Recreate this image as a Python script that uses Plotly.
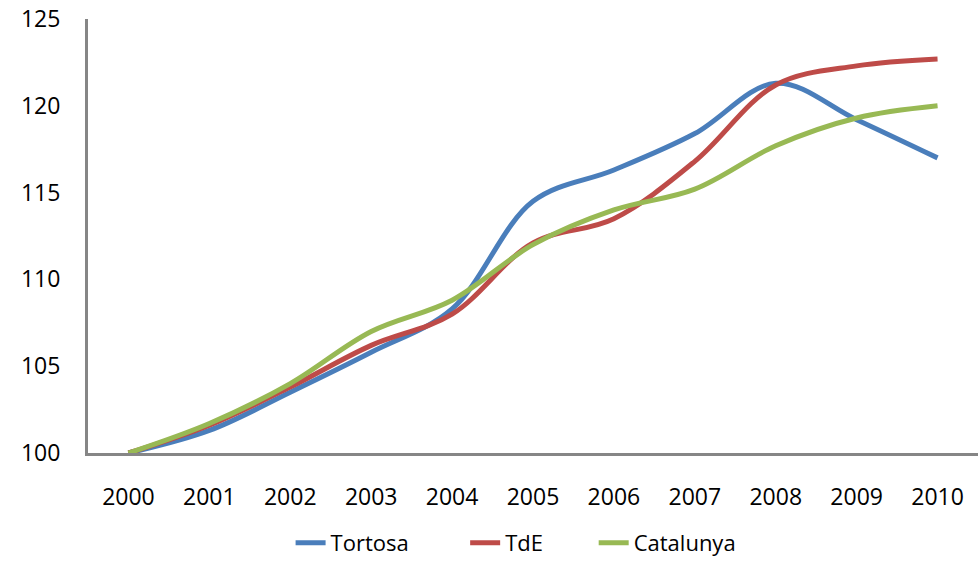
import plotly.graph_objects as go

years = ["2000", "2001", "2002", "2003", "2004", "2005", "2006", "2007", "2008", "2009", "2010"]
tortosa = [100, 101.3, 103.5, 105.8, 108.3, 114.5, 116.3, 118.4, 121.3, 119.2, 117.0]
tde = [100, 101.6, 103.8, 106.2, 108.0, 112.1, 113.5, 116.8, 121.2, 122.3, 122.7]
catalunya = [100, 101.7, 104.0, 107.0, 108.8, 112.0, 114.0, 115.2, 117.7, 119.3, 120.0]
yticks = [100, 105, 110, 115, 120, 125]

series = [("Tortosa" + "\u00a0" * 9, tortosa, "#4A7EBB"),
          ("TdE" + "\u00a0" * 8, tde, "#BE4B48"),
          ("Catalunya", catalunya, "#98B954")]

fig = go.Figure()
for name, vals, col in series:
    fig.add_trace(go.Scatter(x=years, y=vals, name=name, mode="lines",
                             line=dict(color=col, width=5, shape="spline", smoothing=1.0)))

fig.update_layout(
    width=978, height=564,
    margin=dict(l=88, r=0, t=19, b=111),
    paper_bgcolor="white", plot_bgcolor="white",
    font=dict(family="Open Sans, Lato, sans-serif", size=23, color="black"),
    showlegend=True,
    legend=dict(orientation="h", x=0.481, xanchor="center", yref="container", y=0, yanchor="bottom",
                font=dict(size=22), traceorder="normal"),
)
fig.update_xaxes(type="category", range=[-0.5, 10.5], showline=True, linecolor="#868686", linewidth=3,
                 showgrid=False, ticks="", ticklabelstandoff=21, zeroline=False, automargin=False,
                 ticklabeloverflow="allow")
fig.update_yaxes(range=[100, 125], tickvals=yticks, showline=True, linecolor="#868686", linewidth=3,
                 showgrid=False, ticks="", ticklabelstandoff=20, zeroline=False, automargin=False,
                 ticklabeloverflow="allow")

fig.write_html("out.html", config={"displayModeBar": False},
               post_script="document.body.style.margin='0px';")
